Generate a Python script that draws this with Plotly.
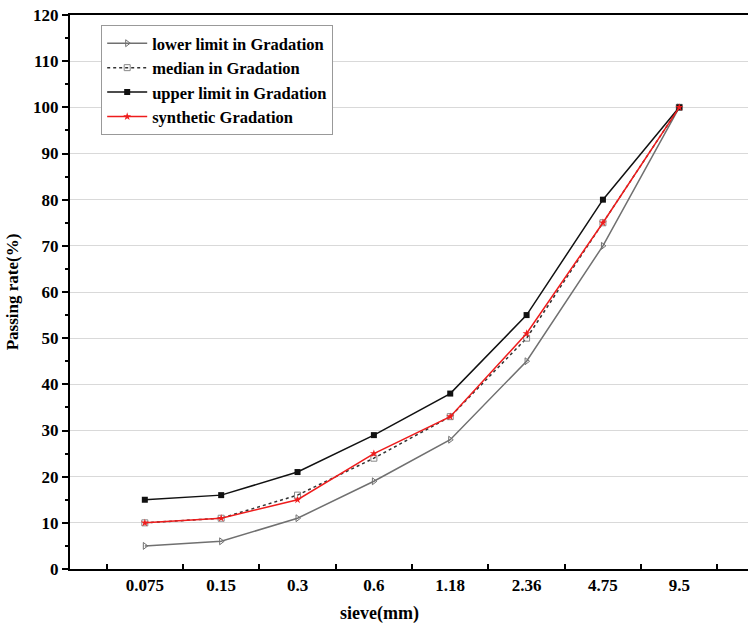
import plotly.graph_objects as go

sieve = ["0.075", "0.15", "0.3", "0.6", "1.18", "2.36", "4.75", "9.5"]
lower = [5, 6, 11, 19, 28, 45, 70, 100]
median = [10, 11, 16, 24, 33, 50, 75, 100]
upper = [15, 16, 21, 29, 38, 55, 80, 100]
synthetic = [10, 11, 15, 25, 33, 51, 75, 100]

FONT = "Liberation Serif"

fig = go.Figure()
fig.add_trace(go.Scatter(x=sieve, y=lower, name="<b>lower limit in Gradation</b>",
                         mode="lines+markers",
                         line=dict(color="#707070", width=1.5),
                         marker=dict(symbol="triangle-right-open", size=6, color="#707070")))
fig.add_trace(go.Scatter(x=sieve, y=median, name="<b>median in Gradation</b>",
                         mode="lines+markers",
                         line=dict(color="#333333", width=1.5, dash="dot"),
                         marker=dict(symbol="square-open", size=6, color="#888888")))
fig.add_trace(go.Scatter(x=sieve, y=upper, name="<b>upper limit in Gradation</b>",
                         mode="lines+markers",
                         line=dict(color="#111111", width=1.5),
                         marker=dict(symbol="square", size=6, color="#111111")))
fig.add_trace(go.Scatter(x=sieve, y=synthetic, name="<b>synthetic Gradation</b>",
                         mode="lines+markers",
                         line=dict(color="#ee1c1c", width=1.5),
                         marker=dict(symbol="star", size=6, color="#ee1c1c")))

fig.update_layout(
    width=748, height=627,
    margin=dict(l=70, r=0, t=15, b=58),
    plot_bgcolor="white", paper_bgcolor="white",
    font=dict(family=FONT, color="black", size=15),
    showlegend=True,
    legend=dict(x=0.046, y=0.982, xanchor="left", yanchor="top",
                bgcolor="white", bordercolor="#999999", borderwidth=1,
                font=dict(family=FONT, size=16.5, color="black"),
                tracegroupgap=0, itemwidth=40),
    xaxis=dict(
        type="category", range=[-0.98, 7.9],
        showline=True, linecolor="black", linewidth=2, mirror=True,
        ticks="inside", tickson="boundaries", ticklen=5, tickwidth=1.5, tickcolor="black",
        showgrid=False, zeroline=False,
        tickfont=dict(family=FONT, size=17, color="black"),
        tickprefix="<b>", ticksuffix="</b>",
    ),
    yaxis=dict(
        range=[0, 120], dtick=10, tick0=0,
        showline=True, linecolor="black", linewidth=2,
        ticks="outside", ticklen=6, tickwidth=1.5, tickcolor="black",
        minor=dict(dtick=5, ticks="outside", ticklen=3, tickcolor="black", showgrid=False),
        showgrid=True, gridcolor="#d9d9d9", gridwidth=1,
        zeroline=False,
        tickfont=dict(family=FONT, size=17, color="black"),
        tickprefix="<b>", ticksuffix="</b>",
        title=dict(text="<b>Passing rate(%)</b>", font=dict(family=FONT, size=17), standoff=10),
    ),
    annotations=[dict(text="<b>sieve(mm)</b>", xref="paper", yref="paper",
                      x=0.456, y=-0.08, xanchor="center", yanchor="middle",
                      showarrow=False, font=dict(family=FONT, size=18, color="black"))],
)

fig.write_html("out.html")
